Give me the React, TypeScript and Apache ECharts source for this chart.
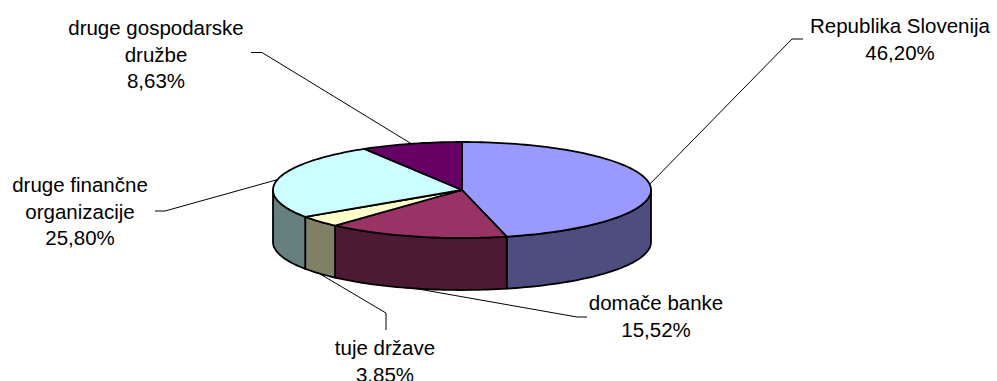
import React, { useEffect, useRef } from 'react';
import * as echarts from 'echarts';

// ---- data ----
const categories = [
  'Republika Slovenija',
  'domače banke',
  'tuje države',
  'druge finančne\norganizacije',
  'druge gospodarske\ndružbe',
];
const values = [46.2, 15.52, 3.85, 25.8, 8.63];

// ---- styles ----
const topColors = ['#9999FF', '#993366', '#FFFFCC', '#CCFFFF', '#660066'];
const sideColors = ['#4D4D80', '#4D1A33', '#808066', '#668080', '#330033'];

// ---- layout ----
const PIE = { cx: 462, cy: 190, rx: 189, ry: 48, depth: 52 };
const labelLayout = [
  { tx: 900, ty: 39, elbow: [792, 39], end: [803, 39] },
  { tx: 656, ty: 316, elbow: [577, 317], end: [587, 317] },
  { tx: 385, ty: 361, elbow: [386, 313], end: [386, 330] },
  { tx: 80, ty: 211, elbow: [165, 211], end: [155, 211] },
  { tx: 156, ty: 54, elbow: [262, 52.5], end: [251, 52.5] },
];
const FONT_SIZE = 20.5;
const LINE_H = 26.5;

const total = values.reduce((a, b) => a + b, 0);
function sliceAngles(i: number): [number, number] {
  let s = 0;
  for (let j = 0; j < i; j++) s += values[j];
  return [(s / total) * Math.PI * 2, ((s + values[i]) / total) * Math.PI * 2];
}
function pt(t: number, dy = 0): number[] {
  return [PIE.cx + PIE.rx * Math.sin(t), PIE.cy - PIE.ry * Math.cos(t) + dy];
}
function arc(a: number, b: number, dy: number): number[][] {
  const n = Math.max(2, Math.ceil((b - a) / (Math.PI / 120)));
  const out: number[][] = [];
  for (let k = 0; k <= n; k++) out.push(pt(a + ((b - a) * k) / n, dy));
  return out;
}
function fmt(v: number) {
  return v.toFixed(2).replace('.', ',') + '%';
}

export default function App() {
  const ref = useRef<HTMLDivElement>(null);
  useEffect(() => {
    if (!ref.current) return;
    const chart = echarts.init(ref.current, undefined, { renderer: 'svg' });
    const data = values.map((v, i) => ({ name: categories[i], value: [i, v] }));
    chart.setOption({
      animation: false,
      backgroundColor: '#ffffff',
      series: [
        {
          type: 'custom',
          coordinateSystem: 'none',
          silent: true,
          z: 1,
          data,
          renderItem: (params: any) => {
            const i = params.dataIndex;
            const [a, b] = sliceAngles(i);
            const lo = Math.max(a, Math.PI / 2);
            const hi = Math.min(b, (Math.PI * 3) / 2);
            if (hi <= lo) return { type: 'group', children: [] };
            const pts = arc(lo, hi, 0).concat(arc(lo, hi, PIE.depth).reverse());
            return {
              type: 'polygon',
              shape: { points: pts },
              style: { fill: sideColors[i], stroke: '#000', lineWidth: 1.8, lineJoin: 'round' },
            };
          },
        },
        {
          type: 'custom',
          coordinateSystem: 'none',
          silent: true,
          z: 2,
          data,
          renderItem: (params: any) => {
            const i = params.dataIndex;
            const [a, b] = sliceAngles(i);
            const pts = [[PIE.cx, PIE.cy]].concat(arc(a, b, 0));
            return {
              type: 'polygon',
              shape: { points: pts },
              style: { fill: topColors[i], stroke: '#000', lineWidth: 1.8, lineJoin: 'round' },
            };
          },
        },
        {
          type: 'custom',
          coordinateSystem: 'none',
          silent: true,
          z: 3,
          data,
          renderItem: (params: any, api: any) => {
            const i = params.dataIndex;
            const [a, b] = sliceAngles(i);
            const m = (a + b) / 2;
            const anchor = Math.cos(m) < 0 ? pt(m, PIE.depth) : pt(m, 0);
            const L = labelLayout[i];
            return {
              type: 'group',
              children: [
                {
                  type: 'polyline',
                  shape: { points: [anchor, L.elbow, L.end] },
                  style: { stroke: '#000', lineWidth: 1, fill: null },
                },
                {
                  type: 'text',
                  style: {
                    text: categories[i] + '\n' + fmt(api.value(1)),
                    x: L.tx,
                    y: L.ty,
                    align: 'center',
                    verticalAlign: 'middle',
                    fontSize: FONT_SIZE,
                    lineHeight: LINE_H,
                    fontFamily: 'Liberation Sans, Arial, sans-serif',
                    fill: '#000',
                  },
                },
              ],
            };
          },
        },
      ],
    });
    return () => chart.dispose();
  }, []);
  return (
    <div
      ref={ref}
      style={{ position: 'fixed', left: 0, top: 0, width: 997, height: 381 }}
    />
  );
}
